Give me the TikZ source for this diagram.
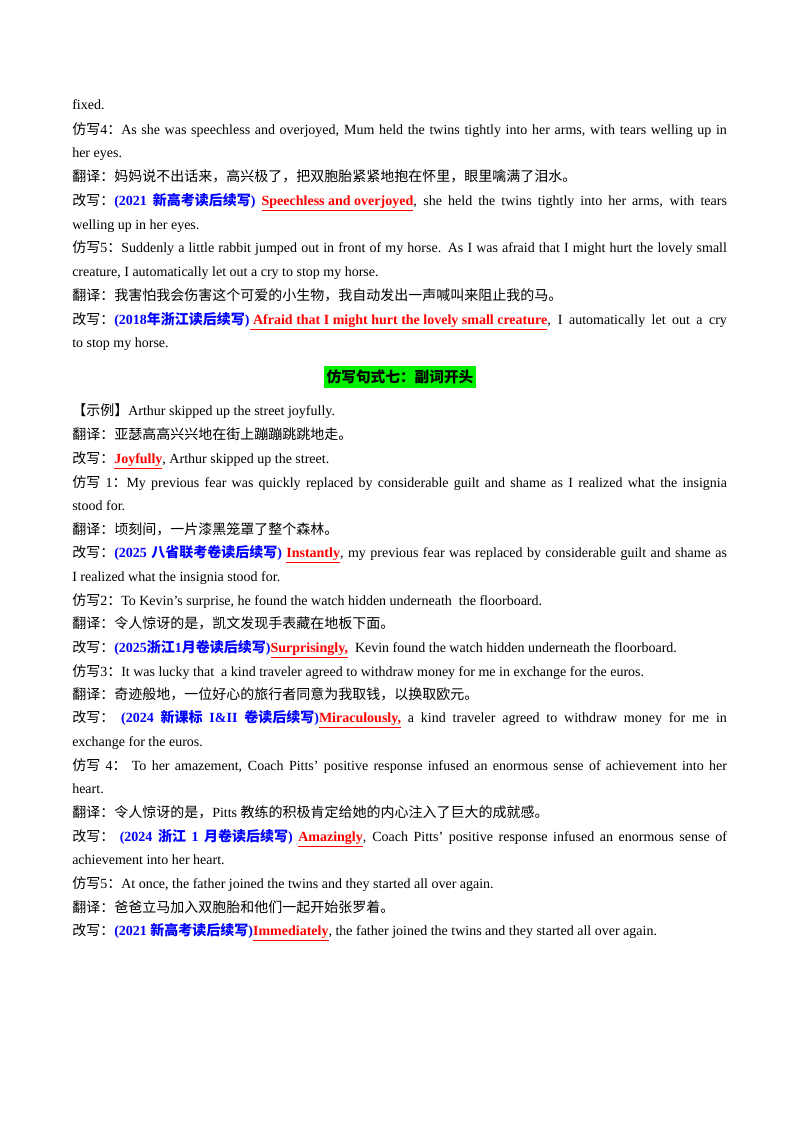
\documentclass[tikz,border=0pt]{standalone}
\usepackage{fontspec}
\setmainfont{Liberation Serif}
\newfontfamily\cn{Noto Sans CJK SC}
\definecolor{srcblue}{RGB}{0,0,255}
\definecolor{kwred}{RGB}{255,0,0}
\definecolor{hdgreen}{RGB}{0,240,0}
\newcommand{\zh}[1]{{\cn #1}}
\newcommand{\src}[1]{\textcolor{srcblue}{\bfseries #1}}
\newcommand{\kw}[1]{\textcolor{kwred}{\bfseries\underline{#1}}}
\newcommand{\full}[1]{\makebox[491pt][s]{#1}}
\newcommand{\myline}[3]{\node[ln] (#1) at (54,{-(#2+4)*0.75}) {#3};}
\tikzset{ln/.style={anchor=base west,inner sep=0pt,font=\fontsize{10.5pt}{12pt}\selectfont}}
\begin{document}
\begin{tikzpicture}[x=1pt,y=1pt]
\useasboundingbox (0,0) rectangle (600,-849);
\myline{a1}{105}{fixed.}
\myline{a2}{130}{\full{\zh{仿写}4\zh{：}As she was speechless and overjoyed, Mum held the twins tightly into her arms, with tears welling up in}}
\myline{a3}{153}{her eyes.}
\myline{a4}{177}{\zh{翻译：妈妈说不出话来，高兴极了，把双胞胎紧紧地抱在怀里，眼里噙满了泪水。}}
\myline{a5}{201}{\full{\zh{改写：}\src{(2021 \zh{新高考读后续写})} \kw{Speechless and overjoyed}, she held the twins tightly into her arms, with tears}}
\myline{a6}{225}{welling up in her eyes.}
\myline{a7}{248}{\full{\zh{仿写}5\zh{：}Suddenly a little rabbit jumped out in front of my horse. As I was afraid that I might hurt the lovely small}}
\myline{a8}{272}{creature, I automatically let out a cry to stop my horse.}
\myline{a9}{296}{\zh{翻译：我害怕我会伤害这个可爱的小生物，我自动发出一声喊叫来阻止我的马。}}
\myline{a10}{320}{\full{\zh{改写：}\src{(2018\zh{年浙江读后续写})}\kw{\ Afraid that I might hurt the lovely small creature}, I automatically let out a cry}}
\myline{a11}{343}{to stop my horse.}
\node[fill=hdgreen,inner xsep=2pt,inner ysep=3pt,font=\cn\bfseries\fontsize{11pt}{13pt}\selectfont] (hd) at (300,{-377*0.75}) {仿写句式七：副词开头};
\myline{b1}{411}{\zh{【示例】}Arthur skipped up the street joyfully.}
\myline{b2}{435}{\zh{翻译：亚瑟高高兴兴地在街上蹦蹦跳跳地走。}}
\myline{b3}{459}{\zh{改写：}\kw{Joyfully}, Arthur skipped up the street.}
\myline{b4}{483}{\full{\zh{仿写} 1\zh{：}My previous fear was quickly replaced by considerable guilt and shame as I realized what the insignia}}
\myline{b5}{506}{stood for.}
\myline{b6}{530}{\zh{翻译：顷刻间，一片漆黑笼罩了整个森林。}}
\myline{b7}{553}{\full{\zh{改写：}\src{(2025 \zh{八省联考卷读后续写})} \kw{Instantly}, my previous fear was replaced by considerable guilt and shame as}}
\myline{b8}{577}{I realized what the insignia stood for.}
\myline{b9}{601}{\zh{仿写}2\zh{：}To Kevin's surprise, he found the watch hidden underneath\ \ the floorboard.}
\myline{b10}{624}{\zh{翻译：令人惊讶的是，凯文发现手表藏在地板下面。}}
\myline{b11}{648}{\zh{改写：}\src{(2025\zh{浙江}1\zh{月卷读后续写})}\kw{Surprisingly,}\ \ Kevin found the watch hidden underneath the floorboard.}
\myline{b12}{672}{\zh{仿写}3\zh{：}It was lucky that\ \ a kind traveler agreed to withdraw money for me in exchange for the euros.}
\myline{b13}{695}{\zh{翻译：奇迹般地，一位好心的旅行者同意为我取钱，以换取欧元。}}
\myline{b14}{718}{\full{\zh{改写：} \src{(2024 \zh{新课标} I\&II \zh{卷读后续写})}\kw{Miraculously,} a kind traveler agreed to withdraw money for me in}}
\myline{b15}{742}{exchange for the euros.}
\myline{b16}{766}{\full{\zh{仿写} 4\zh{：} To her amazement, Coach Pitts' positive response infused an enormous sense of achievement into her}}
\myline{b17}{789}{heart.}
\myline{b18}{813}{\zh{翻译：令人惊讶的是，}Pitts \zh{教练的积极肯定给她的内心注入了巨大的成就感。}}
\myline{b19}{837}{\full{\zh{改写：} \src{(2024 \zh{浙江} 1 \zh{月卷读后续写})} \kw{Amazingly}, Coach Pitts' positive response infused an enormous sense of}}
\myline{b20}{860}{achievement into her heart.}
\myline{b21}{884}{\zh{仿写}5\zh{：}At once, the father joined the twins and they started all over again.}
\myline{b22}{908}{\zh{翻译：爸爸立马加入双胞胎和他们一起开始张罗着。}}
\myline{b23}{931}{\zh{改写：}\src{(2021 \zh{新高考读后续写})}\kw{Immediately}, the father joined the twins and they started all over again.}
\end{tikzpicture}
\end{document}
